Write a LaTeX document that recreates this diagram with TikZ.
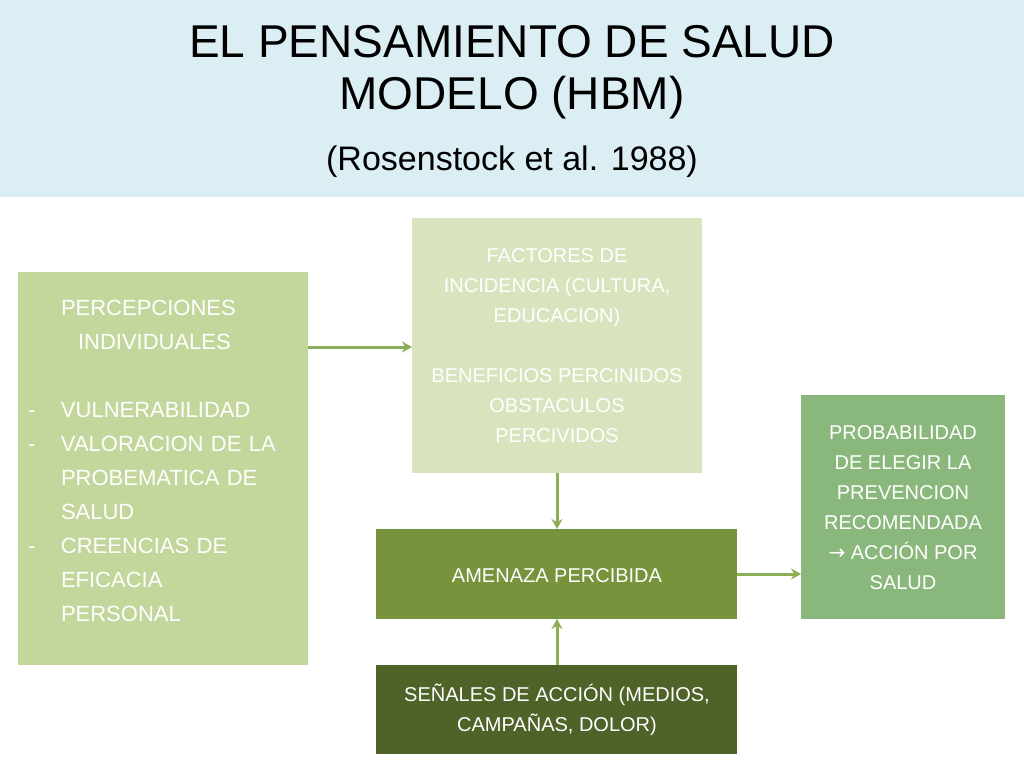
\documentclass[tikz,border=0pt]{standalone}
\usepackage{fontspec}
\setmainfont{Liberation Sans}
\usetikzlibrary{arrows.meta}
\definecolor{hdr}{HTML}{DBEEF4}
\definecolor{cA}{HTML}{C3D69B}
\definecolor{cB}{HTML}{D7E4BD}
\definecolor{cC}{HTML}{77933C}
\definecolor{cD}{HTML}{4F6228}
\definecolor{cE}{HTML}{8AB77C}
\definecolor{arr}{HTML}{8CAE57}
\tikzset{x=1pt,y=-1pt,
 bx/.style={inner sep=0,outer sep=0,text=white,font=\fontsize{20}{30}\selectfont,align=center},
 ar/.style={draw=arr,line width=3pt,-{Stealth[length=10pt,width=11pt]}}}
\begin{document}
\begin{tikzpicture}
\useasboundingbox (0,0) rectangle (1024,768);
\fill[white] (0,0) rectangle (1024,768);
\fill[hdr] (0,0) rectangle (1024,197);
\node[font=\fontsize{46}{52}\selectfont,align=center] (t) at (512,72) {EL PENSAMIENTO DE SALUD\\MODELO (HBM)};
\node[font=\fontsize{34}{40}\selectfont] (st) at (512,162) {(Rosenstock et al. 1988)};
\fill[cA] (18,272) rectangle (308,665);
\node[bx,anchor=north west,text width=270pt,align=left,font=\fontsize{22}{34}\selectfont] (L) at (28,300) {%
\hspace*{33pt}PERCEPCIONES\\\hspace*{50pt}INDIVIDUALES\\[34pt]
\makebox[33pt][l]{-}VULNERABILIDAD\\
\makebox[33pt][l]{-}VALORACION DE LA\\
\hspace*{33pt}PROBEMATICA DE\\
\hspace*{33pt}SALUD\\
\makebox[33pt][l]{-}CREENCIAS DE\\
\hspace*{33pt}EFICACIA\\
\hspace*{33pt}PERSONAL};
\coordinate (La) at (308,347);
\fill[cB] (412,218) rectangle (702,473);
\node[bx] (F) at (557,346) {FACTORES DE\\INCIDENCIA (CULTURA,\\EDUCACION)\\[30pt]BENEFICIOS PERCINIDOS\\OBSTACULOS\\PERCIVIDOS};
\coordinate (Fl) at (412,347);
\coordinate (Fb) at (557,473);
\fill[cC] (376,529) rectangle (737,619);
\node[bx] (A) at (557,576) {AMENAZA PERCIBIDA};
\coordinate (At) at (557,529);
\coordinate (Ab) at (557,619);
\coordinate (Ar) at (737,574);
\fill[cD] (376,665) rectangle (737,754);
\node[bx] (S) at (557,710) {SEÑALES DE ACCIÓN (MEDIOS,\\CAMPAÑAS, DOLOR)};
\coordinate (St) at (557,665);
\fill[cE] (801,395) rectangle (1005,619);
\node[bx] (P) at (903,508) {PROBABILIDAD\\DE ELEGIR LA\\PREVENCION\\RECOMENDADA\\{\fontspec{DejaVu Sans}→} ACCIÓN POR\\SALUD};
\coordinate (Pl) at (801,574);
\draw[ar] (La) -- (Fl);
\draw[ar] (Fb) -- (At);
\draw[ar] (St) -- (Ab);
\draw[ar] (Ar) -- (Pl);
\end{tikzpicture}
\end{document}
